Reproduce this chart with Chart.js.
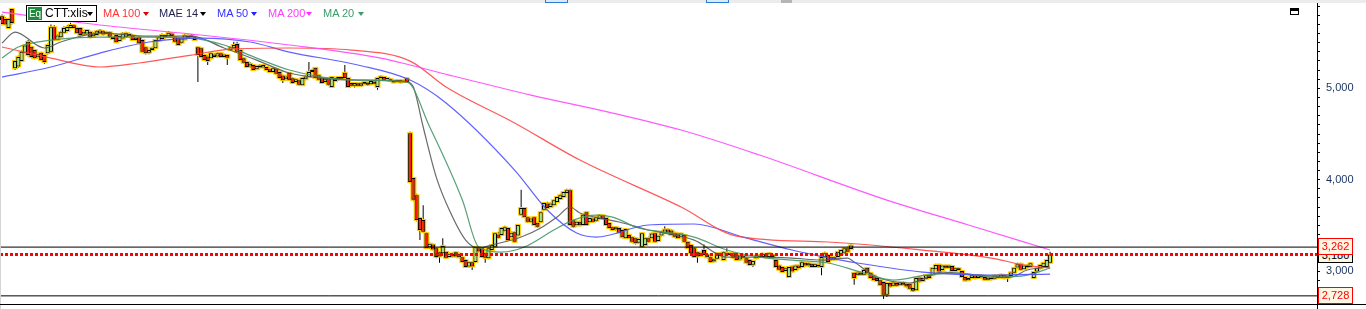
<!DOCTYPE html>
<html>
<head>
<meta charset="utf-8">
<title>CTT:xlis</title>
<script src="https://cdn.jsdelivr.net/npm/chart.js@4.4.1/dist/chart.umd.min.js"></script>
<style>
  body { margin: 0; background: #fff; }
  #wrap { position: relative; width: 1366px; height: 309px; overflow: hidden; background: #fff;
          font-family: "Liberation Sans", Arial, sans-serif; }
  #wrap canvas { position: absolute; left: 0; top: 0; }
  .abs { position: absolute; }
  .lg { position: absolute; top: 7px; font-size: 11px; line-height: 13px; white-space: nowrap; }
  .tri { position: absolute; top: 12px; width: 0; height: 0; border-left: 3px solid transparent;
         border-right: 3px solid transparent; border-top: 4px solid #000; }
  .tag { position: absolute; left: 1318px; width: 35px; height: 17px; box-sizing: border-box;
         background: #fdf7e3; font-size: 11px; line-height: 15px; text-align: center; }
</style>
</head>
<body>
<div id="wrap">
  <canvas id="chart" width="1366" height="309"></canvas>

  <div class="abs" style="left:0;top:0;width:1366px;height:3px;background:#ececec"></div>
  <div class="abs" style="left:545px;top:0;width:23px;height:3px;box-sizing:border-box;border:1px solid #2b7cd3;border-top:0;background:#dce9f7"></div>
  <div class="abs" style="left:706px;top:0;width:23px;height:3px;box-sizing:border-box;border:1px solid #2b7cd3;border-top:0;background:#dce9f7"></div>
  <div class="abs" style="left:781px;top:0;width:11px;height:3px;background:#b5b5b5"></div>
  <div class="abs" style="left:0;top:20px;width:1px;height:289px;background:#d4d4d4"></div>
  <div class="abs" style="left:0;top:304px;width:1366px;height:1px;background:#000"></div>
  <div class="abs" style="left:1317px;top:304px;width:1px;height:5px;background:#000"></div>
  <div class="abs" style="left:1290px;top:8px;width:9px;height:7px;box-sizing:border-box;border:1px solid #000;border-top-width:3px"></div>

  <div class="abs" style="left:26px;top:5px;width:71px;height:17px;box-sizing:border-box;border:1px solid #000;background:#fff">
    <div class="abs" style="left:1px;top:1px;width:14px;height:13px;background:#1f8a3e;color:#fff;font-size:10px;line-height:13px;text-align:center">Eq</div>
    <div class="abs" style="left:18px;top:1px;font-size:12px;line-height:13px;color:#000">CTT:xlis</div>
    <div class="tri" style="left:60px;top:6px"></div>
  </div>
  <div class="lg" style="left:103px;color:#ff3333">MA 100</div>
  <div class="tri" style="left:143px;border-top-color:#e00000"></div>
  <div class="lg" style="left:159px;color:#1e1e4e">MAE 14</div>
  <div class="tri" style="left:200px"></div>
  <div class="lg" style="left:217px;color:#3333ff">MA 50</div>
  <div class="tri" style="left:251px;border-top-color:#2222ff"></div>
  <div class="lg" style="left:268px;color:#ff3cff">MA 200</div>
  <div class="tri" style="left:306px;border-top-color:#ff30ff"></div>
  <div class="lg" style="left:323px;color:#3c9c6c">MA 20</div>
  <div class="tri" style="left:358px;border-top-color:#3c9c6c"></div>

  <div class="tag" style="top:247px;height:16px;border:1px solid #000;color:#000;line-height:14px">3,180</div>
  <div class="tag" style="top:238px;border:1px solid #ff0000;color:#ff0000">3,262</div>
  <div class="tag" style="top:287px;border:1px solid #ff0000;color:#ff0000">2,728</div>
</div>

<script>
// daily candles (oldest first)
const opens = [
  5790, 5760, 5660, 5870, 5220, 5240, 5300, 5390, 5510, 5455,
  5420, 5340, 5390, 5365, 5385, 5400, 5670, 5530, 5560, 5610,
  5628, 5660, 5690, 5660, 5660, 5590, 5600, 5620, 5570, 5585,
  5605, 5625, 5595, 5615, 5565, 5585, 5520, 5545, 5565, 5595,
  5580, 5530, 5560, 5530, 5450, 5390, 5420, 5440, 5520, 5540,
  5585, 5570, 5600, 5560, 5550, 5500, 5535, 5575, 5580, 5560,
  5450, 5440, 5365, 5350, 5330, 5370, 5350, 5385, 5345, 5365,
  5420, 5440, 5485, 5420, 5330, 5290, 5240, 5255, 5210, 5250,
  5230, 5235, 5210, 5180, 5210, 5180, 5140, 5100, 5170, 5110,
  5070, 5090, 5035, 5100, 5125, 5180, 5225, 5145, 5110, 5070,
  5110, 5015, 5115, 5100, 5125, 5170, 5115, 5060, 5030, 5055,
  5030, 5050, 5065, 5045, 5075, 5015, 5110, 5125, 5100, 5100,
  5085, 5070, 5090, 5070, 5110,
  4510, 4020, 3830, 3580, 3560, 3415, 3260, 3290, 3250, 3205,
  3195, 3210, 3155, 3190, 3160, 3190, 3150, 3120, 3050, 3095,
  3100, 3260, 3250, 3200, 3140, 3230, 3265, 3400, 3395, 3440,
  3470, 3370, 3425, 3390, 3615, 3690, 3590, 3540, 3590, 3530,
  3535, 3670, 3740, 3700, 3720, 3755, 3790, 3810, 3855, 3885,
  3555, 3500, 3540, 3505, 3645, 3535, 3575, 3550, 3570, 3610,
  3580, 3525, 3480, 3455, 3470, 3450, 3360, 3395, 3370, 3360,
  3310, 3265, 3285, 3360, 3360, 3415, 3330, 3390, 3420, 3455,
  3445, 3420, 3410, 3370, 3395, 3320, 3285, 3250, 3205, 3165,
  3230, 3180, 3150, 3105, 3135, 3195, 3120, 3200, 3175, 3195,
  3175, 3125, 3170, 3140, 3120, 3070, 3140, 3170, 3155, 3180,
  3155, 3180, 3120, 3060, 3045, 3000, 2935, 3050, 3010, 3060,
  3045, 3090, 3060, 3080, 3045, 3070, 3045, 3150, 3175, 3125,
  3150, 3155, 3185, 3200, 3250, 3240, 2980, 2955, 2985, 2960,
  3035, 2980, 2950, 2925, 2900, 2880, 2740, 2870, 2840, 2870,
  2845, 2875, 2860, 2860, 2815, 2790, 2930, 2890, 2915, 2960,
  2955, 3020, 3070, 3010, 3060, 3035, 3055, 3000, 3030, 3000,
  2935, 2900, 2925, 2950, 2925, 2950, 2935, 2905, 2930, 2915,
  2950, 2925, 2955, 2925, 2945, 2980, 3040, 3080, 3020, 3060,
  3045, 2925, 2995, 3030, 3045, 3045, 3090
];
const closes = [
  5705, 5700, 5760, 5715, 5300, 5345, 5400, 5470, 5365, 5345,
  5330, 5375, 5310, 5290, 5475, 5670, 5530, 5580, 5615, 5660,
  5672, 5695, 5660, 5605, 5585, 5620, 5640, 5560, 5600, 5625,
  5635, 5590, 5615, 5565, 5540, 5505, 5575, 5600, 5605, 5570,
  5530, 5555, 5495, 5400, 5385, 5420, 5445, 5530, 5560, 5585,
  5560, 5610, 5575, 5510, 5475, 5545, 5580, 5555, 5560, 5530,
  5365, 5345, 5310, 5300, 5385, 5345, 5385, 5345, 5370, 5335,
  5450, 5475, 5400, 5310, 5280, 5235, 5270, 5200, 5245, 5230,
  5255, 5200, 5180, 5220, 5160, 5115, 5090, 5130, 5090, 5060,
  5100, 5040, 5115, 5130, 5180, 5200, 5115, 5095, 5060, 5100,
  5040, 5125, 5080, 5125, 5105, 5115, 5015, 5030, 5060, 5030,
  5055, 5070, 5040, 5080, 5050, 5115, 5130, 5095, 5115, 5080,
  5065, 5090, 5065, 5085, 5070,
  3975, 3780, 3560, 3450, 3430, 3250, 3300, 3235, 3155, 3160,
  3275, 3145, 3190, 3160, 3205, 3150, 3100, 3045, 3095, 3050,
  3265, 3215, 3155, 3145, 3250, 3285, 3415, 3365, 3470, 3480,
  3340, 3420, 3320, 3505, 3690, 3590, 3540, 3575, 3505, 3485,
  3645, 3745, 3690, 3740, 3775, 3810, 3830, 3865, 3885, 3505,
  3485, 3540, 3500, 3615, 3505, 3580, 3540, 3590, 3610, 3570,
  3505, 3470, 3450, 3480, 3420, 3370, 3460, 3360, 3320, 3305,
  3350, 3415, 3360, 3320, 3410, 3320, 3385, 3430, 3455, 3420,
  3395, 3375, 3360, 3410, 3320, 3250, 3195, 3155, 3160, 3200,
  3175, 3150, 3100, 3130, 3195, 3165, 3205, 3180, 3195, 3145,
  3120, 3170, 3145, 3090, 3065, 3110, 3170, 3155, 3190, 3150,
  3195, 3155, 3045, 3015, 2990, 3030, 3045, 2995, 3060, 3030,
  3095, 3060, 3085, 3045, 3075, 3050, 3155, 3195, 3100, 3150,
  3125, 3210, 3230, 3250, 3210, 3280, 2925, 2985, 2960, 3010,
  2980, 2925, 2900, 2890, 2845, 2740, 2870, 2830, 2875, 2840,
  2875, 2850, 2830, 2805, 2785, 2925, 2885, 2925, 2955, 2925,
  3035, 3065, 2995, 3060, 3035, 3060, 3000, 3030, 3010, 2935,
  2895, 2925, 2955, 2920, 2950, 2930, 2905, 2930, 2910, 2950,
  2925, 2960, 2920, 2950, 2985, 3035, 3075, 3015, 3060, 3040,
  3085, 2990, 3035, 3065, 3090, 3120, 3180
];
const highs = [
  5810, 5775, 5770, 5880, 5310, 5360, 5415, 5480, 5530, 5465,
  5430, 5390, 5400, 5375, 5490, 5700, 5690, 5595, 5630, 5680,
  5690, 5720, 5705, 5675, 5670, 5635, 5650, 5630, 5615, 5640,
  5650, 5640, 5625, 5625, 5575, 5595, 5590, 5615, 5620, 5610,
  5590, 5565, 5570, 5540, 5460, 5430, 5455, 5540, 5575, 5600,
  5595, 5625, 5615, 5570, 5560, 5555, 5595, 5590, 5595, 5570,
  5460, 5450, 5375, 5365, 5395, 5385, 5395, 5395, 5380, 5375,
  5460, 5510, 5510, 5430, 5340, 5300, 5285, 5265, 5255, 5265,
  5265, 5245, 5225, 5230, 5220, 5190, 5150, 5140, 5180, 5120,
  5110, 5100, 5125, 5140, 5290, 5215, 5235, 5155, 5120, 5110,
  5120, 5135, 5125, 5135, 5135, 5255, 5125, 5070, 5070, 5065,
  5065, 5080, 5075, 5090, 5085, 5125, 5140, 5135, 5125, 5110,
  5095, 5100, 5100, 5095, 5120,
  4525, 4030, 3845, 3590, 3720, 3425, 3310, 3300, 3260, 3215,
  3360, 3220, 3200, 3200, 3215, 3200, 3160, 3130, 3105, 3105,
  3275, 3275, 3260, 3210, 3260, 3295, 3425, 3430, 3480, 3495,
  3480, 3430, 3435, 3515, 3890, 3700, 3600, 3585, 3600, 3540,
  3655, 3755, 3760, 3750, 3785, 3820, 3845, 3875, 3900, 3900,
  3565, 3550, 3550, 3625, 3655, 3590, 3590, 3600, 3625, 3620,
  3590, 3535, 3490, 3490, 3480, 3460, 3470, 3405, 3380, 3370,
  3360, 3425, 3370, 3375, 3420, 3425, 3395, 3440, 3490, 3465,
  3455, 3430, 3420, 3420, 3405, 3330, 3295, 3260, 3215, 3210,
  3290, 3195, 3160, 3140, 3205, 3205, 3215, 3250, 3205, 3205,
  3185, 3180, 3180, 3150, 3130, 3120, 3180, 3185, 3200, 3190,
  3205, 3190, 3130, 3070, 3055, 3040, 3055, 3060, 3070, 3070,
  3105, 3100, 3095, 3090, 3085, 3080, 3165, 3210, 3185, 3160,
  3160, 3220, 3240, 3260, 3265, 3290, 2990, 2995, 2995, 3020,
  3045, 2990, 2960, 2935, 2910, 2890, 2880, 2880, 2885, 2880,
  2885, 2885, 2870, 2870, 2825, 2935, 2940, 2935, 2965, 2970,
  3045, 3080, 3080, 3070, 3070, 3070, 3065, 3040, 3040, 3010,
  2945, 2935, 2965, 2960, 2960, 2960, 2945, 2940, 2940, 2960,
  2960, 2970, 2965, 2960, 2995, 3045, 3090, 3090, 3070, 3075,
  3095, 3000, 3045, 3075, 3100, 3130, 3210
];
const lows = [
  5690, 5690, 5650, 5700, 5200, 5225, 5290, 5380, 5350, 5330,
  5320, 5330, 5300, 5270, 5370, 5390, 5520, 5520, 5550, 5600,
  5615, 5650, 5650, 5595, 5575, 5580, 5590, 5550, 5560, 5575,
  5595, 5580, 5585, 5555, 5530, 5495, 5510, 5535, 5555, 5560,
  5520, 5520, 5485, 5390, 5370, 5375, 5410, 5430, 5510, 5530,
  5550, 5560, 5565, 5500, 5465, 5490, 5525, 5545, 5550, 5520,
  5070, 5330, 5300, 5255, 5320, 5335, 5340, 5335, 5335, 5255,
  5410, 5430, 5390, 5300, 5270, 5225, 5225, 5190, 5200, 5220,
  5220, 5190, 5170, 5170, 5150, 5105, 5060, 5090, 5080, 5050,
  5060, 5030, 5025, 5090, 5115, 5170, 5105, 5085, 5050, 5060,
  5030, 5005, 5070, 5090, 5095, 5105, 5005, 5020, 5010, 5020,
  5020, 5040, 5030, 5035, 5040, 4985, 5100, 5085, 5080, 5070,
  5055, 5060, 5055, 5060, 5060,
  3960, 3765, 3545, 3340, 3420, 3240, 3245, 3225, 3140, 3090,
  3185, 3135, 3145, 3150, 3150, 3140, 3090, 3035, 3040, 3010,
  3090, 3205, 3145, 3090, 3130, 3220, 3255, 3355, 3385, 3430,
  3330, 3360, 3310, 3380, 3605, 3580, 3530, 3530, 3495, 3475,
  3525, 3660, 3680, 3690, 3710, 3745, 3780, 3800, 3845, 3495,
  3470, 3490, 3490, 3495, 3495, 3525, 3530, 3540, 3560, 3560,
  3495, 3460, 3440, 3440, 3410, 3360, 3350, 3350, 3310, 3290,
  3300, 3255, 3275, 3310, 3350, 3310, 3320, 3380, 3410, 3410,
  3385, 3365, 3350, 3360, 3310, 3240, 3185, 3145, 3090, 3155,
  3165, 3140, 3090, 3095, 3125, 3155, 3110, 3170, 3165, 3135,
  3110, 3115, 3135, 3080, 3055, 3045, 3130, 3145, 3145, 3140,
  3145, 3145, 3035, 3005, 2980, 2990, 2925, 2985, 3000, 3020,
  3035, 3050, 3050, 3035, 3035, 3040, 2955, 3140, 3090, 3115,
  3115, 3145, 3175, 3190, 3200, 3230, 2850, 2945, 2950, 2950,
  2970, 2915, 2890, 2880, 2835, 2695, 2715, 2820, 2830, 2830,
  2835, 2840, 2820, 2795, 2770, 2780, 2875, 2880, 2905, 2915,
  2945, 3010, 2985, 3000, 3025, 3025, 2990, 2990, 3000, 2925,
  2885, 2890, 2915, 2910, 2915, 2920, 2895, 2895, 2900, 2905,
  2915, 2915, 2910, 2880, 2935, 2970, 3030, 3005, 3010, 3030,
  3035, 2915, 2985, 3020, 3035, 3035, 3080
];

// moving averages, sampled along the drawn curves (candle index, value)
const ma200Idx = [0, 30, 58, 88, 116, 125, 137, 162, 187, 208, 232, 271, 296, 321];
const ma200 = [5836, 5694, 5595, 5475, 5332, 5256, 5146, 4927, 4730, 4544, 4270, 3777, 3504, 3230];
const ma100Idx = [0, 15, 30, 42, 58, 70, 88, 107, 125, 136, 157, 177, 208, 225, 253, 282, 303, 313, 321];
const ma100 = [5453, 5332, 5234, 5278, 5365, 5431, 5442, 5420, 5299, 5015, 4621, 4215, 3701, 3383, 3318, 3230, 3142, 3066, 3033];
const ma50Idx = [0, 15, 30, 45, 61, 76, 88, 109, 125, 136, 157, 167, 176, 182, 198, 212, 227, 242, 252, 262, 282, 303, 321];
const ma50 = [5124, 5234, 5387, 5508, 5551, 5508, 5398, 5256, 5091, 4840, 4106, 3668, 3416, 3372, 3504, 3515, 3372, 3230, 3153, 3088, 2989, 2956, 2967];
const ma20Idx = [0, 5, 15, 30, 45, 58, 68, 78, 88, 98, 109, 124, 131, 141, 146, 153, 160, 169, 175, 182, 187, 195, 203, 212, 222, 232, 242, 253, 263, 273, 283, 293, 304, 314, 321];
const ma20 = [5332, 5453, 5529, 5562, 5562, 5551, 5475, 5332, 5201, 5124, 5091, 5070, 4577, 3777, 3263, 3208, 3263, 3449, 3558, 3613, 3591, 3471, 3427, 3372, 3230, 3153, 3120, 3088, 2989, 2901, 2956, 2978, 2934, 2956, 3033];
const mae14Idx = [0, 4, 13, 18, 30, 45, 58, 68, 78, 88, 98, 109, 124, 126, 129, 133, 137, 142, 146, 150, 159, 165, 170, 174, 177, 183, 189, 198, 203, 212, 222, 232, 242, 251, 259, 261, 268, 278, 288, 299, 309, 314, 321];
const mae14 = [5497, 5617, 5442, 5508, 5606, 5573, 5573, 5442, 5310, 5168, 5113, 5091, 5070, 5015, 4577, 4029, 3668, 3339, 3252, 3285, 3372, 3471, 3591, 3701, 3635, 3580, 3537, 3449, 3416, 3339, 3153, 3153, 3142, 3120, 3142, 3099, 2934, 2869, 2989, 2956, 2934, 3011, 3044];

// horizontal levels
const levelHigh = 3262;
const levelLow = 2728;
const lastPrice = 3180;

// price axis: minor tick every 100, label every 1000
const tickValues = [];
for (let v = 2700; v <= 5900; v += 100) tickValues.push(v);

const X_MIN = -0.61;
const X_MAX = 402.75;
const Y_MIN = 2639;
const Y_MAX = 5935;

Chart.defaults.font.family = '"Liberation Sans", Arial, sans-serif';

const idx = opens.map((_, i) => i);
const bodies = idx.map(i => ({ x: i, y: [opens[i], closes[i]] }));
const wicks = idx.map(i => ({ x: i, y: [lows[i], highs[i]] }));
const pts = (xs, ys) => xs.map((x, i) => ({ x: x, y: ys[i] }));
const level = v => [{ x: X_MIN, y: v }, { x: X_MAX, y: v }];

function maLine(label, xs, ys, color) {
    return {
        type: 'line',
        label: label,
        data: pts(xs, ys),
        borderColor: color,
        borderWidth: 1.2,
        pointRadius: 0,
        cubicInterpolationMode: 'monotone',
        order: 0
    };
}

function levelLine(v, color, width, dash) {
    return {
        type: 'line',
        data: level(v),
        borderColor: color,
        borderWidth: width,
        borderDash: dash,
        borderCapStyle: 'butt',
        pointRadius: 0,
        order: 0
    };
}

new Chart(document.getElementById('chart').getContext('2d'), {
    type: 'bar',
    data: {
        datasets: [
            levelLine(levelHigh, '#000000', 1, []),
            levelLine(levelLow, '#000000', 1, []),
            levelLine(lastPrice, '#ff0000', 3, [3, 2]),
            maLine('MA 200', ma200Idx, ma200, 'rgba(255,70,255,0.9)'),
            maLine('MA 100', ma100Idx, ma100, 'rgba(255,70,70,0.9)'),
            maLine('MA 50', ma50Idx, ma50, 'rgba(80,80,255,0.9)'),
            maLine('MA 20', ma20Idx, ma20, 'rgba(70,150,105,0.9)'),
            maLine('MAE 14', mae14Idx, mae14, 'rgba(90,90,90,0.9)'),
            {
                label: 'body',
                data: bodies,
                backgroundColor: ctx => closes[ctx.dataIndex] >= opens[ctx.dataIndex] ? '#9de39d' : '#ff1414',
                borderColor: '#000000',
                borderWidth: 1,
                borderSkipped: false,
                barThickness: 4,
                inflateAmount: 0,
                grouped: false,
                order: 1
            },
            {
                label: 'frame',
                data: bodies,
                backgroundColor: '#ffcc00',
                borderWidth: 0,
                barThickness: 4,
                inflateAmount: 1,
                grouped: false,
                order: 2
            },
            {
                label: 'wick',
                data: wicks,
                backgroundColor: '#000000',
                borderWidth: 0,
                barThickness: 1,
                inflateAmount: 0,
                grouped: false,
                order: 3
            }
        ]
    },
    options: {
        responsive: false,
        animation: false,
        devicePixelRatio: 1,
        events: [],
        layout: { padding: { top: 3, bottom: 5, left: 0, right: 0 } },
        plugins: {
            legend: { display: false },
            tooltip: { enabled: false }
        },
        scales: {
            x: {
                type: 'linear',
                min: X_MIN,
                max: X_MAX,
                offset: false,
                display: false,
                grid: { display: false }
            },
            y: {
                position: 'right',
                min: Y_MIN,
                max: Y_MAX,
                border: { display: true, color: '#000000', width: 1 },
                grid: { drawOnChartArea: false, drawTicks: true, tickLength: 3, tickColor: '#000000' },
                ticks: {
                    autoSkip: false,
                    padding: 6,
                    color: '#17325f',
                    font: { size: 11 },
                    callback: v => v % 1000 === 0 ? String(v).replace(/\B(?=(\d{3})+(?!\d))/g, ',') : ''
                },
                afterBuildTicks: scale => {
                    scale.ticks = tickValues.map(v => ({ value: v }));
                },
                afterFit: scale => {
                    scale.width = 49;
                    scale.paddingTop = 0;
                    scale.paddingBottom = 0;
                }
            }
        }
    }
});
</script>
</body>
</html>
